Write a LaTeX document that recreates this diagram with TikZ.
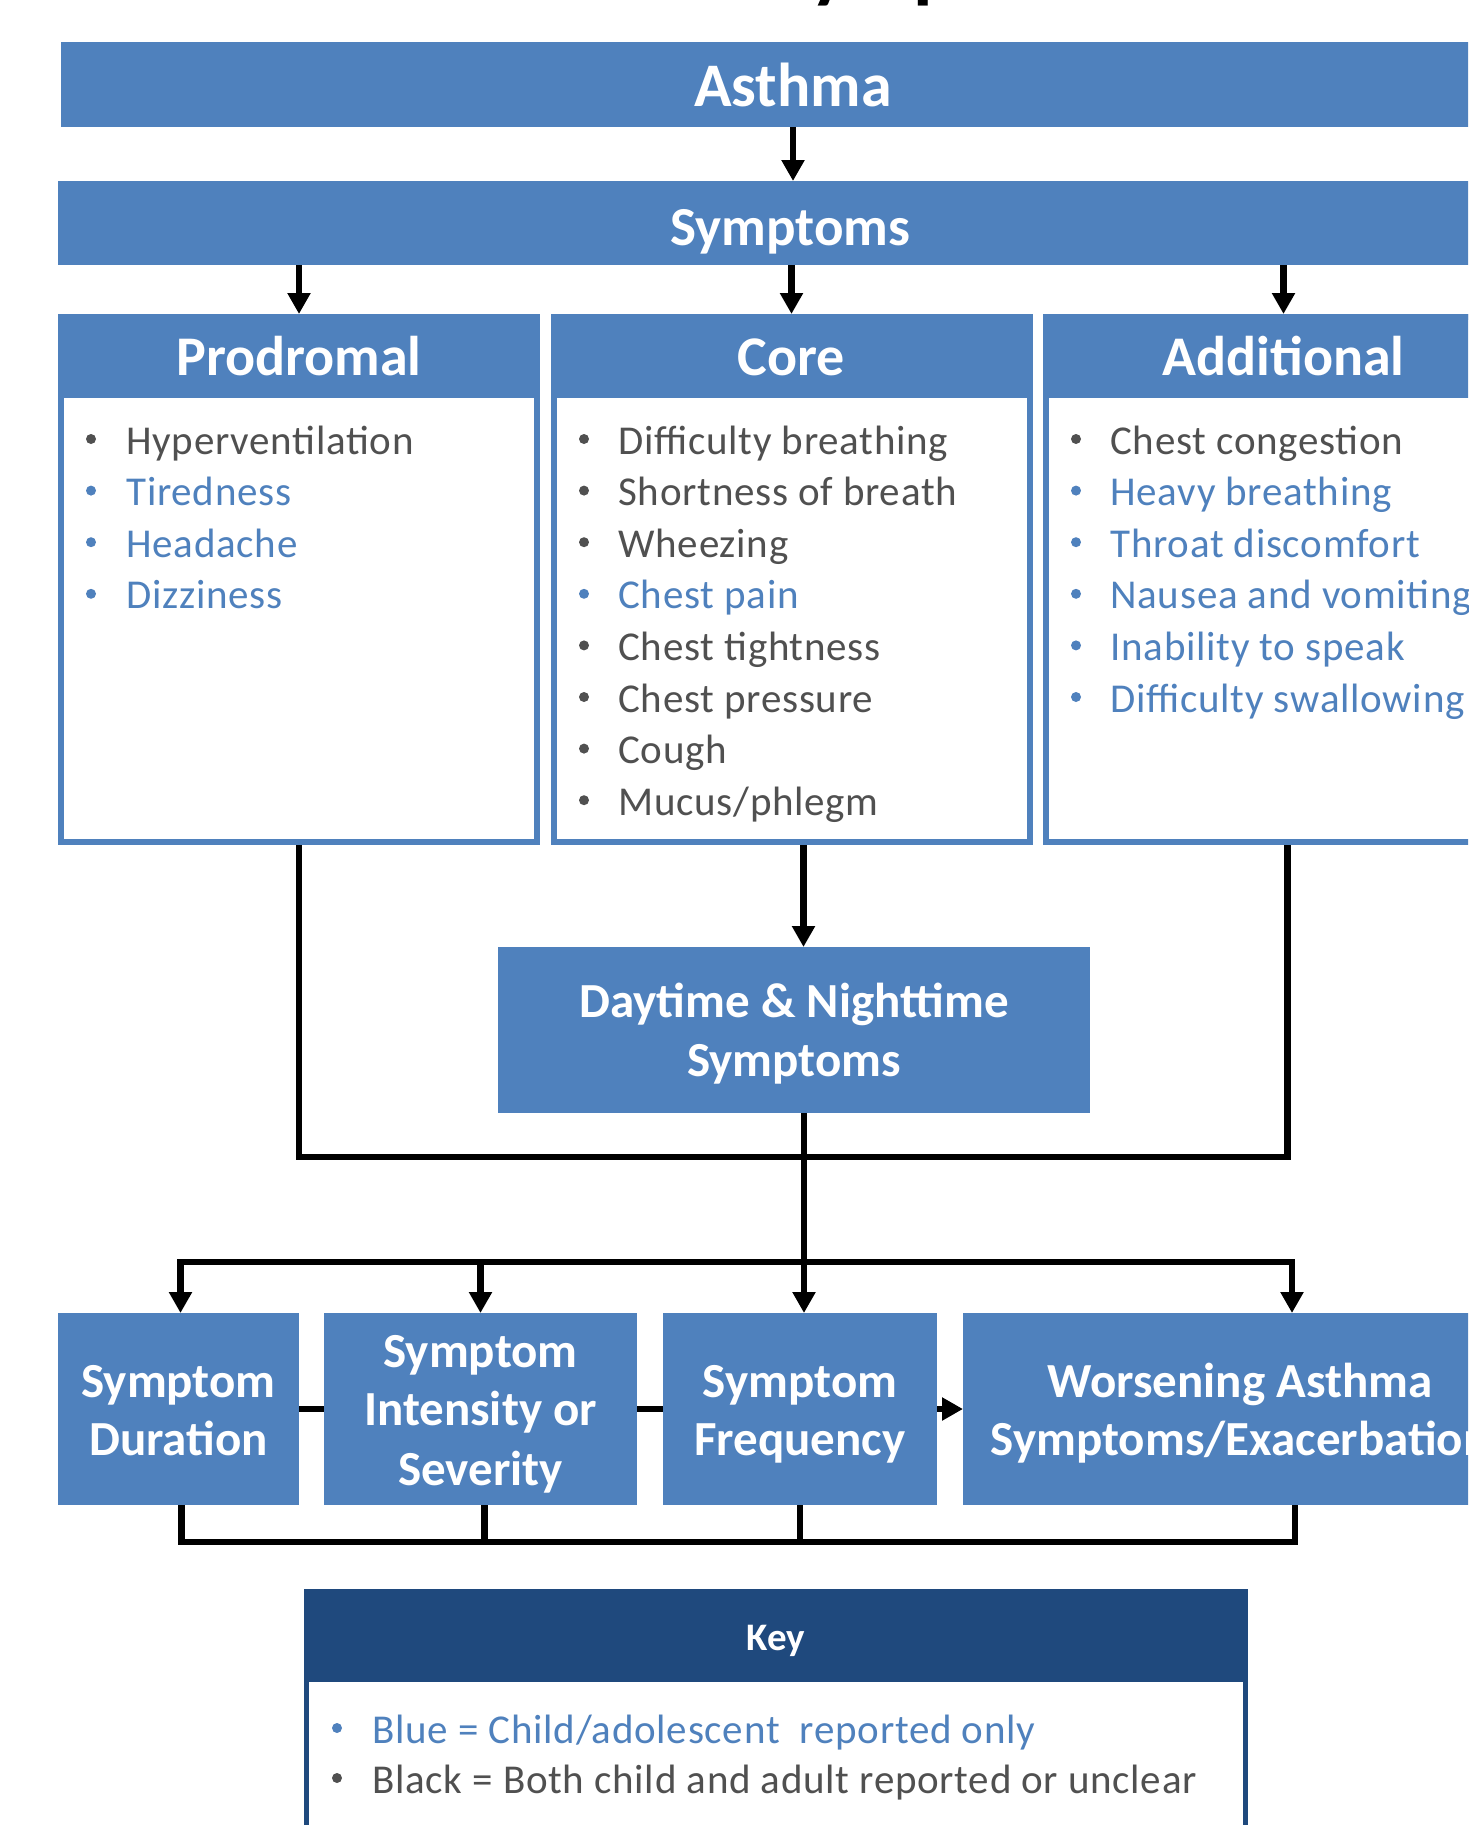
\documentclass[tikz,border=0pt]{standalone}
\usepackage{fontspec}
\setmainfont{Carlito}
\newfontfamily\itemfont[LetterSpace=1.8]{Carlito}
\usetikzlibrary{arrows.meta}
\definecolor{boxblue}{RGB}{79,129,189}
\definecolor{navy}{RGB}{31,73,125}
\definecolor{itemgray}{RGB}{80,80,80}
\begin{document}
\begin{tikzpicture}[x=0.5pt,y=-0.5pt,
  bar/.style={fill=boxblue, draw=none, inner sep=0pt, outer sep=0pt},
  colbox/.style={fill=white, draw=boxblue, line width=3pt, inner sep=0pt, minimum width=238pt, minimum height=262.5pt},
  headband/.style={fill=boxblue, draw=none, inner sep=0pt, outer sep=0pt, minimum width=241pt, minimum height=42pt, anchor=north},
  bigtxt/.style={text=white, inner sep=0pt, anchor=base, font=\bfseries\fontsize{31pt}{37pt}\selectfont},
  headtxt/.style={text=white, inner sep=0pt, anchor=base, font=\bfseries\fontsize{28pt}{34pt}\selectfont},
  boxtxt/.style={text=white, inner sep=0pt, anchor=base, font=\bfseries\fontsize{24.5pt}{29pt}\selectfont},
  item/.style={inner sep=0pt, anchor=base west, font=\itemfont\fontsize{20.5pt}{25pt}\selectfont},
  conn/.style={line width=3.25pt, draw=black, line join=miter},
  arr/.style={conn, -{Triangle[width=11pt,length=10.5pt]}},
]
\useasboundingbox (0,0) rectangle (1468,1825);
\clip (0,0) rectangle (1468,1825);

% title fragment (cut off at the top)
\node[inner sep=0pt, anchor=base west, font=\bfseries\fontsize{40pt}{48pt}\selectfont] (title) at (773,-6) {Symptoms};

% top bars
\node[bar, minimum width=732pt, minimum height=42.5pt] (asthma) at (793,84.5) {};
\node[bigtxt] (asthmat) at (793,106) {Asthma};
\node[bar, minimum width=732pt, minimum height=42pt] (symbar) at (790,223) {};
\node[bigtxt, font=\bfseries\fontsize{27.5pt}{33pt}\selectfont] (symbart) at (790.5,245) {Symptoms};
\draw[arr] (asthma.south) -- (asthma.south |- symbar.north);

% columns
\node[colbox] (prod) at (299,579.5) {};
\node[colbox] (core) at (791.5,579.5) {};
\node[colbox] (addl) at (1283.5,579.5) {};
\node[headband] (prodh) at (prod.north) {};
\node[headband] (coreh) at (core.north) {};
\node[headband] (addlh) at (addl.north) {};
\node[headtxt] (prodt) at (299,375) {Prodromal};
\node[headtxt] (coret) at (791.5,375) {Core};
\node[headtxt] (addlt) at (1283.5,375) {Additional};
\draw[arr] (symbar.south -| prod.north) -- (prod.north);
\draw[arr] (symbar.south -| core.north) -- (core.north);
\draw[arr] (symbar.south -| addl.north) -- (addl.north);

\foreach \t/\c [count=\i from 0] in {Hyperventilation/itemgray, Tiredness/boxblue, Headache/boxblue, Dizziness/boxblue}{
  \fill[\c] (91,439+51.6*\i) circle[radius=5];
  \node[item, text=\c] (pi\i) at (126,454+51.6*\i) {\t};
}
\foreach \t/\c [count=\i from 0] in {Difficulty breathing/itemgray, Shortness of breath/itemgray, Wheezing/itemgray, Chest pain/boxblue, Chest tightness/itemgray, Chest pressure/itemgray, Cough/itemgray, {Mucus/phlegm}/itemgray}{
  \fill[\c] (584,439+51.6*\i) circle[radius=5];
  \node[item, text=\c] (ci\i) at (618,454+51.6*\i) {\t};
}
\foreach \t/\c [count=\i from 0] in {Chest congestion/itemgray, Heavy breathing/boxblue, Throat discomfort/boxblue, Nausea and vomiting/boxblue, Inability to speak/boxblue, Difficulty swallowing/boxblue}{
  \fill[\c] (1076,439+51.6*\i) circle[radius=5];
  \node[item, text=\c] (ai\i) at (1110,454+51.6*\i) {\t};
}

% daytime & nighttime
\node[bar, minimum width=296pt, minimum height=83pt] (day) at (794,1030) {};
\node[boxtxt] (dayt1) at (794,1017) {Daytime \& Nighttime};
\node[boxtxt] (dayt2) at (794,1076) {Symptoms};
\draw[arr] ([xshift=6pt]core.south) -- ([xshift=6pt]core.south |- day.north);

% merge line
\coordinate (mrg) at (0,1157);
\draw[conn] (prod.south) -- (prod.south |- mrg) -- ([xshift=2pt]addl.south |- mrg) -- ([xshift=2pt]addl.south);

% bottom boxes
\node[bar, minimum width=120.5pt, minimum height=96pt] (b1) at (178.5,1409) {};
\node[bar, minimum width=156.5pt, minimum height=96pt] (b2) at (480.5,1409) {};
\node[bar, minimum width=137pt, minimum height=96pt] (b3) at (800,1409) {};
\node[bar, minimum width=277pt, minimum height=96pt] (b4) at (1240,1409) {};
\node[boxtxt] (b1t1) at (178.5,1397) {Symptom};
\node[boxtxt] (b1t2) at (178.5,1455) {Duration};
\node[boxtxt] (b2t1) at (480.5,1367) {Symptom};
\node[boxtxt] (b2t2) at (480.5,1425) {Intensity or};
\node[boxtxt] (b2t3) at (480.5,1485) {Severity};
\node[boxtxt] (b3t1) at (800,1397) {Symptom};
\node[boxtxt] (b3t2) at (800,1455) {Frequency};
\node[boxtxt] (b4t1) at (1240,1397) {Worsening Asthma};
\node[boxtxt] (b4t2) at (1240,1455) {Symptoms/Exacerbation};

% distribution
\coordinate (dist) at (0,1262);
\draw[conn] ([xshift=5pt]day.south) -- ([xshift=5pt]day.south |- dist);
\draw[arr] ([xshift=5pt]day.south |- dist) -- ([xshift=5pt]day.south |- b3.north);
\draw[arr] ([xshift=5pt]day.south |- dist) -| ([xshift=1pt]b1.north);
\draw[arr] ([xshift=5pt]day.south |- dist) -| ([xshift=26pt]b4.north);
\draw[arr] (b2.north |- dist) -- (b2.north);

\draw[conn] (b1.east) -- (b2.west);
\draw[conn] (b2.east) -- (b3.west);
\draw[arr] (b3.east) -- (b4.west);

\coordinate (bot) at (0,1542);
\draw[conn] ([xshift=1.5pt]b1.south) -- ([xshift=1.5pt]b1.south |- bot) -- ([xshift=27.5pt]b4.south |- bot) -- ([xshift=27.5pt]b4.south);
\draw[conn] ([xshift=2pt]b2.south) -- ([xshift=2pt]b2.south |- bot);
\draw[conn] (b3.south) -- (b3.south |- bot);

% key
\node[fill=white, draw=navy, line width=2.5pt, inner sep=0pt, minimum width=469.5pt, minimum height=153pt] (key) at (776,1744.5) {};
\node[fill=navy, inner sep=0pt, outer sep=0pt, minimum width=472pt, minimum height=46.5pt, anchor=north] (keyh) at (key.north) {};
\node[text=white, inner sep=0pt, anchor=base, font=\bfseries\fontsize{19.5pt}{24pt}\selectfont] (keyt) at (776,1650) {Key};
\fill[boxblue] (337,1728) circle[radius=5];
\node[item, text=boxblue] (k1) at (372,1743) {Blue = Child/adolescent\ \ reported only};
\fill[itemgray] (337,1778) circle[radius=5];
\node[item, text=itemgray] (k2) at (372,1793) {Black = Both child and adult reported or unclear};
\end{tikzpicture}
\end{document}
